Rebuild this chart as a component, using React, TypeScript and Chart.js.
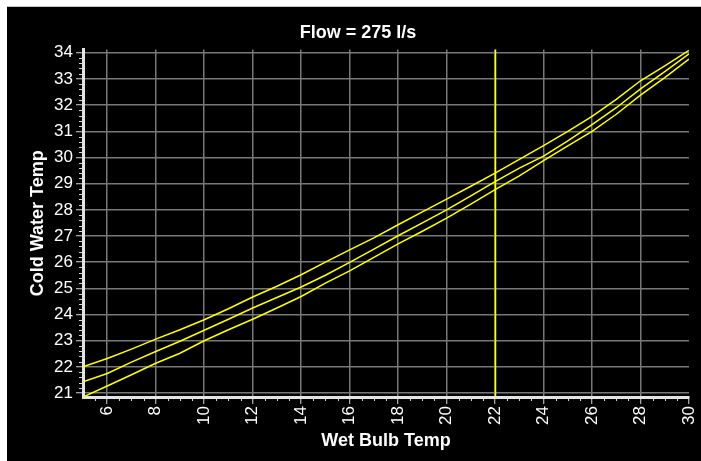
import React, { useEffect, useRef } from "react";
import { Chart, registerables } from "chart.js";

Chart.register(...registerables);

// ---- data ----
const wetBulbTemps = [5, 6, 7, 8, 9, 10, 11, 12, 13, 14, 15, 16, 17, 18, 19, 20, 21, 22, 23, 24, 25, 26, 27, 28, 29, 30];
const upperCurve = [22.0, 22.32, 22.68, 23.06, 23.42, 23.8, 24.22, 24.67, 25.08, 25.52, 26.0, 26.47, 26.93, 27.43, 27.92, 28.41, 28.9, 29.4, 29.93, 30.45, 31.0, 31.57, 32.22, 32.93, 33.5, 34.09];
const middleCurve = [21.43, 21.75, 22.18, 22.59, 22.98, 23.4, 23.82, 24.25, 24.65, 25.05, 25.5, 25.99, 26.5, 27.01, 27.5, 28.0, 28.53, 29.08, 29.59, 30.05, 30.63, 31.25, 31.9, 32.62, 33.28, 33.96];
const lowerCurve = [20.85, 21.27, 21.7, 22.14, 22.52, 23.0, 23.42, 23.82, 24.25, 24.69, 25.2, 25.67, 26.18, 26.7, 27.18, 27.68, 28.22, 28.77, 29.3, 29.88, 30.44, 31.0, 31.65, 32.38, 33.05, 33.76];
const xTickValues = [6, 8, 10, 12, 14, 16, 18, 20, 22, 24, 26, 28, 30];
const yTickValues = [21, 22, 23, 24, 25, 26, 27, 28, 29, 30, 31, 32, 33, 34];
const designWetBulb = 22;
const chartTitle = "Flow = 275 l/s";
const xAxisTitle = "Wet Bulb Temp";
const yAxisTitle = "Cold Water Temp";
const xMin = 5;
const xMax = 30;
const yMin = 20.85;
const yMax = 34.12;
const xMinorStep = 0.5;
const yMinorStep = 0.2;

const FONT = "'Liberation Sans', Arial, Helvetica, sans-serif";
const LINE_COLOR = "#ffff00";
const GRID_COLOR = "#787878";
const TICK_COLOR = "#d8d8d8";

const toPoints = (ys: number[]) => wetBulbTemps.map((x, i) => ({ x, y: ys[i] }));

const decorPlugin = {
  id: "decor",
  beforeDatasetsDraw(chart: any) {
    const { ctx, chartArea, scales } = chart;
    const px = Math.round(scales.x.getPixelForValue(designWetBulb)) + 0.5;
    ctx.save();
    ctx.strokeStyle = LINE_COLOR;
    ctx.lineWidth = 1.5;
    ctx.beginPath();
    ctx.moveTo(px, chartArea.top);
    ctx.lineTo(px, chartArea.bottom);
    ctx.stroke();
    ctx.restore();
  },
  afterDraw(chart: any) {
    const { ctx, chartArea, scales } = chart;
    ctx.save();
    ctx.strokeStyle = TICK_COLOR;
    ctx.lineWidth = 1;
    ctx.beginPath();
    // y minor ticks
    for (let i = 0; ; i++) {
      const v = Math.round((21 + i * yMinorStep) * 100) / 100;
      if (v > yMax) break;
      if (Math.abs(v - Math.round(v)) < 1e-6) continue;
      const y = Math.round(scales.y.getPixelForValue(v)) + 0.5;
      ctx.moveTo(chartArea.left - 4, y);
      ctx.lineTo(chartArea.left, y);
    }
    for (let i = 0; ; i++) {
      const v = Math.round((21 - (i + 1) * yMinorStep) * 100) / 100;
      if (v < yMin) break;
      const y = Math.round(scales.y.getPixelForValue(v)) + 0.5;
      ctx.moveTo(chartArea.left - 4, y);
      ctx.lineTo(chartArea.left, y);
    }
    // x minor ticks
    for (let i = 1; ; i++) {
      const v = xMin + i * xMinorStep;
      if (v >= xMax) break;
      if (v % 2 === 0) continue;
      const x = Math.round(scales.x.getPixelForValue(v)) + 0.5;
      ctx.moveTo(x, chartArea.bottom);
      ctx.lineTo(x, chartArea.bottom + 4);
    }
    ctx.stroke();
    ctx.restore();
  },
};

export default function App() {
  const ref = useRef<HTMLCanvasElement | null>(null);

  useEffect(() => {
    if (!ref.current) return;
    const mk = (label: string, ys: number[]) => ({
      label,
      data: toPoints(ys),
      borderColor: LINE_COLOR,
      backgroundColor: LINE_COLOR,
      borderWidth: 1.5,
      pointRadius: 0,
      tension: 0,
      fill: false,
    });
    const chart = new Chart(ref.current, {
      type: "line",
      data: {
        datasets: [mk("Upper", upperCurve), mk("Middle", middleCurve), mk("Lower", lowerCurve)],
      },
      plugins: [decorPlugin],
      options: {
        animation: false,
        responsive: false,
        devicePixelRatio: 1,
        layout: { padding: { left: 20, right: 12, top: 0, bottom: 0 } },
        plugins: {
          legend: { display: false },
          tooltip: { enabled: false },
          title: {
            display: true,
            text: chartTitle,
            color: "#ffffff",
            font: { family: FONT, size: 18, weight: "bold" },
            padding: { top: 15, bottom: 6 },
          },
        },
        scales: {
          x: {
            type: "linear",
            min: xMin,
            max: xMax,
            afterBuildTicks: (scale: any) => {
              scale.ticks = xTickValues.map((v) => ({ value: v }));
            },
            afterFit: (scale: any) => {
              scale.height = 64;
              scale.paddingLeft = 0;
              scale.paddingRight = 0;
            },
            ticks: {
              color: "#ffffff",
              font: { family: FONT, size: 17 },
              minRotation: 90,
              maxRotation: 90,
              autoSkip: false,
              padding: 2,
              callback: (v: any) => String(v),
            },
            grid: {
              color: (c: any) => (c.tick && c.tick.value === xMax ? "rgba(0,0,0,0)" : GRID_COLOR),
              lineWidth: 1.5,
              tickColor: TICK_COLOR,
              tickLength: 7,
              tickWidth: 1,
            },
            border: { color: "#e4e4e4", width: 3 },
            title: {
              display: true,
              text: xAxisTitle,
              color: "#ffffff",
              font: { family: FONT, size: 18, weight: "bold" },
              padding: { top: 0, bottom: 9 },
            },
          },
          y: {
            type: "linear",
            min: yMin,
            max: yMax,
            afterBuildTicks: (scale: any) => {
              scale.ticks = yTickValues.map((v) => ({ value: v }));
            },
            afterFit: (scale: any) => {
              scale.width = 56;
              scale.paddingTop = 0;
              scale.paddingBottom = 0;
            },
            ticks: {
              color: "#ffffff",
              font: { family: FONT, size: 17 },
              autoSkip: false,
              padding: 3,
              callback: (v: any) => String(v),
            },
            grid: {
              color: GRID_COLOR,
              lineWidth: 1.5,
              tickColor: TICK_COLOR,
              tickLength: 7,
              tickWidth: 1,
            },
            border: { color: "#e4e4e4", width: 3 },
            title: {
              display: true,
              text: yAxisTitle,
              color: "#ffffff",
              font: { family: FONT, size: 18, weight: "bold" },
              padding: { top: 0, bottom: 0 },
            },
          },
        },
      },
    } as any);
    return () => chart.destroy();
  }, []);

  return (
    <div
      style={{
        position: "absolute",
        left: 7,
        top: 6,
        width: 694,
        height: 454,
        background: "#000000",
        borderTop: "1px solid #c4c4c4",
      }}
    >
      <canvas ref={ref} width={694} height={454} style={{ display: "block" }} />
    </div>
  );
}
